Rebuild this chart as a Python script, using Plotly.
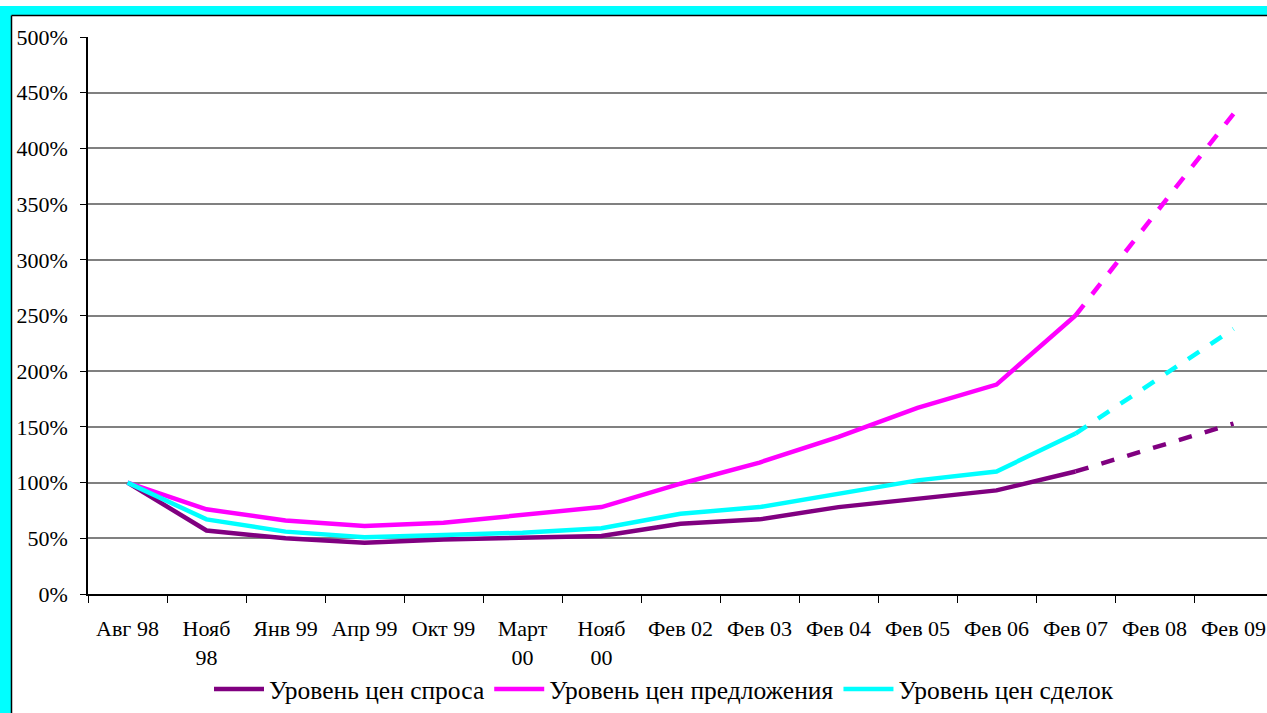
import plotly.graph_objects as go

# Categories (x axis)
periods = ["Авг 98", "Нояб<br>98", "Янв 99", "Апр 99", "Окт 99", "Март<br>00", "Нояб<br>00",
           "Фев 02", "Фев 03", "Фев 04", "Фев 05", "Фев 06", "Фев 07", "Фев 08", "Фев 09"]

# Price levels, % of August 1998; last two points are the forecast
demand = [100, 57, 50, 46, 49, 50, 52, 63, 67, 78, 85, 93, 110, 132, 153]
supply = [100, 76, 66, 61, 64, 71, 78, 99, 118, 141, 167, 188, 250, 340, 431]
deals = [100, 67, 56, 51, 53, 55, 59, 72, 78, 90, 102, 110, 144, 191, 238]

series_names = ["Уровень цен спроса", "Уровень цен предложения", "Уровень цен сделок"]
series_colors = ["#800080", "#FF00FF", "#00FFFF"]
last_actual = 12  # index of "Фев 07"

W, H = 1267, 713
L, T, R_PX, B_PX = 88, 37, 1267, 594
plot_w, plot_h = R_PX - L, B_PX - T

fig = go.Figure()
for name, color, vals in zip(series_names, series_colors, [demand, supply, deals]):
    solid = [v if i <= last_actual else None for i, v in enumerate(vals)]
    dashed = [v if i >= last_actual else None for i, v in enumerate(vals)]
    fig.add_trace(go.Scatter(x=periods, y=solid, name=name, mode="lines",
                             line=dict(color=color, width=4.5), showlegend=True))
    fig.add_trace(go.Scatter(x=periods, y=dashed, name=name, mode="lines",
                             line=dict(color=color, width=4.5, dash="dash"), showlegend=False))


def px_x(p):
    return (p - L) / plot_w


def px_y(p):
    return (B_PX - p) / plot_h


# cyan frame with a thin black inner edge
shapes = [
    dict(type="rect", xref="paper", yref="paper", x0=px_x(0), x1=px_x(11), y0=px_y(H), y1=px_y(6),
         fillcolor="#00FFFF", line=dict(width=0), layer="below"),
    dict(type="rect", xref="paper", yref="paper", x0=px_x(0), x1=px_x(W), y0=px_y(15), y1=px_y(6),
         fillcolor="#00FFFF", line=dict(width=0), layer="below"),
    dict(type="line", xref="paper", yref="paper", x0=px_x(11.5), x1=px_x(11.5), y0=px_y(H), y1=px_y(15.5),
         line=dict(color="black", width=1.5)),
    dict(type="line", xref="paper", yref="paper", x0=px_x(11.5), x1=px_x(W), y0=px_y(15.5), y1=px_y(15.5),
         line=dict(color="black", width=1.5)),
]

tick_font = dict(family="Liberation Serif, Times New Roman, serif", size=22, color="black")
legend_font = dict(family="Liberation Serif, Times New Roman, serif", size=25.5, color="black")

fig.update_layout(
    width=W, height=H,
    margin=dict(l=L, r=0, t=T, b=H - B_PX),
    paper_bgcolor="white", plot_bgcolor="white",
    font=tick_font,
    shapes=shapes,
    showlegend=True,
    legend=dict(orientation="h", x=px_x(664), xanchor="center", y=px_y(690), yanchor="middle",
                font=legend_font, bgcolor="rgba(0,0,0,0)", itemwidth=50, tracegroupgap=0),
    xaxis=dict(type="category", range=[-0.5, -0.5 + plot_w / 79.0], showgrid=False,
               showline=True, linecolor="black", linewidth=1.5,
               ticks="outside", ticklen=7, tickcolor="black", tickson="boundaries",
               tickangle=0, ticklabelstandoff=14, tickfont=tick_font),
    yaxis=dict(range=[0, 500], dtick=50, ticksuffix="%", showgrid=True, gridcolor="#808080", gridwidth=1.5,
               showline=True, linecolor="black", linewidth=1.5, zeroline=False,
               ticks="outside", ticklen=6, tickcolor="black", ticklabelstandoff=8, tickfont=tick_font),
)

fig.write_html("out.html")
